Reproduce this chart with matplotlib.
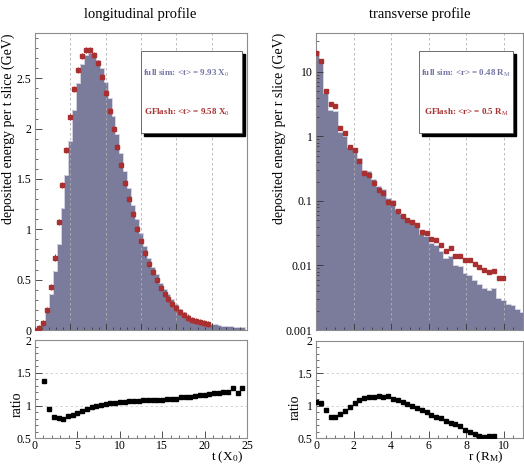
import numpy as np
import matplotlib
matplotlib.use('Agg')
import matplotlib.pyplot as plt
from matplotlib.patches import Rectangle
from matplotlib.ticker import MultipleLocator, LogLocator, FuncFormatter, NullFormatter

plt.rcParams['font.family'] = ['Liberation Serif', 'DejaVu Serif']
plt.rcParams['mathtext.fontset'] = 'custom'
plt.rcParams['mathtext.rm'] = 'Liberation Serif'
plt.rcParams['mathtext.it'] = 'Liberation Serif:italic'
plt.rcParams['mathtext.bf'] = 'Liberation Serif:bold'

# ---------------- longitudinal profile (t in X0) ----------------
t_bin = 30 / 54
long_full = [0.003, 0.012, 0.093, 0.19, 0.353, 0.583, 0.856, 1.21, 1.54, 1.876,
             2.19, 2.45, 2.64, 2.73, 2.75, 2.72, 2.68, 2.60, 2.46, 2.30,
             2.13, 1.95, 1.76, 1.58, 1.41, 1.24, 1.10, 0.96, 0.83, 0.72,
             0.63, 0.56, 0.47, 0.405, 0.355, 0.304, 0.254, 0.211, 0.178, 0.148,
             0.123, 0.105, 0.096, 0.078, 0.070, 0.062, 0.055, 0.049, 0.044, 0.039,
             0.035, 0.031, 0.028, 0.025]
long_gfl = [0.003, 0.018, 0.068, 0.20, 0.425, 0.72, 1.07, 1.44, 1.79, 2.12,
            2.39, 2.58, 2.72, 2.785, 2.785, 2.735, 2.65, 2.51, 2.35, 2.18,
            2.0, 1.82, 1.64, 1.46, 1.30, 1.15, 1.006, 0.88, 0.76, 0.66,
            0.575, 0.50, 0.42, 0.36, 0.31, 0.263, 0.22, 0.18, 0.15, 0.124,
            0.102, 0.087, 0.075, 0.066, 0.055]
long_ratio_first = 2  # first bin with a ratio point
long_ratio = [1.37, 0.95, 0.83, 0.81, 0.80, 0.84, 0.86, 0.885, 0.915, 0.95,
              0.97, 0.99, 1.01, 1.02, 1.035, 1.045, 1.055, 1.06, 1.065, 1.07,
              1.075, 1.08, 1.085, 1.08, 1.09, 1.09, 1.095, 1.095, 1.10, 1.125,
              1.125, 1.125, 1.145, 1.155, 1.155, 1.17, 1.185, 1.195, 1.21, 1.205,
              1.275, 1.185, 1.275]

# ---------------- transverse profile (r in RM) ----------------
r_bin = 0.256
tran_full = [20.7, 15.4, 4.77, 2.59, 2.46, 1.18, 1.03, 0.673, 0.634, 0.457,
             0.30, 0.289, 0.216, 0.173, 0.153, 0.110, 0.102, 0.075, 0.0625, 0.0513,
             0.0465, 0.0405, 0.0304, 0.0288, 0.0224, 0.0208, 0.0165, 0.0131, 0.0138, 0.0102,
             0.0098, 0.0077, 0.0071, 0.0060, 0.0051, 0.0045, 0.0042, 0.0044, 0.0031, 0.0029,
             0.0025, 0.0024, 0.0021, 0.0019]
tran_gfl = [19.5, 14.8, 5.07, 3.16, 3.0, 1.36, 1.12, 0.687, 0.61, 0.42,
            0.268, 0.256, 0.19, 0.15, 0.135, 0.0955, 0.093, 0.069, 0.059, 0.050,
            0.047, 0.042, 0.0327, 0.032, 0.026, 0.025, 0.0204, 0.017, 0.0186, 0.0142,
            0.0142, 0.0122, 0.012, 0.0107, 0.0095, 0.0086, 0.0079, 0.0082, 0.0063, 0.0064]
tran_ratio = [1.06, 1.04, 0.94, 0.82, 0.82, 0.87, 0.92, 0.98, 1.04, 1.087,
              1.12, 1.128, 1.137, 1.152, 1.137, 1.152, 1.10, 1.087, 1.06, 1.025,
              0.99, 0.965, 0.93, 0.90, 0.86, 0.83, 0.81, 0.77, 0.74, 0.72,
              0.69, 0.635, 0.59, 0.56, 0.535, 0.52, 0.535, 0.54]

FILL = '#7b7b9c'
RED = '#a83030'
SIM_TXT = '#7474a4'
FRAME = '#8c8c8c'
GRID = '#b0b0b0'

W, H = 524, 465
fig = plt.figure(figsize=(W / 100, H / 100), dpi=100)


def ax_at(x0, y0, x1, y1):
    return fig.add_axes([x0 / W, 1 - y1 / H, (x1 - x0) / W, (y1 - y0) / H])


ax_l = ax_at(35, 33, 247, 330)
ax_lr = ax_at(35, 340, 247, 438.3)
ax_r = ax_at(316.2, 33, 522.5, 330)
ax_rr = ax_at(316.2, 340.7, 522.5, 438.3)

fmt_g = FuncFormatter(lambda v, p: f'{v:g}')

for ax in (ax_l, ax_lr, ax_r, ax_rr):
    for s in ax.spines.values():
        s.set_color(FRAME)
        s.set_linewidth(0.8)
    ax.tick_params(which='both', direction='in', top=False, right=False,
                   labelsize=8.5, colors='#333333', labelcolor='black')
    ax.tick_params(axis='x', pad=1)
    ax.tick_params(axis='y', pad=2.5)
    ax.tick_params(which='major', length=5, width=0.6)
    ax.tick_params(which='minor', length=2.5, width=0.5)

# ---- longitudinal top ----
t_edges = (np.arange(len(long_full) + 1) - 0.5) * t_bin
ax_l.stairs(long_full, t_edges, fill=True, color=FILL, zorder=1)
ax_l.stairs(long_full, t_edges, color='#d4d4e2', lw=0.7, zorder=1.5)
t_g = np.arange(len(long_gfl)) * t_bin
ax_l.errorbar(t_g, long_gfl, yerr=0.03, fmt='s', ms=3.3, color=RED,
              elinewidth=0.7, capsize=0, zorder=3)
ax_l.set_xlim(0, 30)
ax_l.set_ylim(0, 2.95)
ax_l.xaxis.set_major_locator(MultipleLocator(5))
ax_l.xaxis.set_minor_locator(MultipleLocator(1))
ax_l.yaxis.set_major_locator(MultipleLocator(0.5))
ax_l.yaxis.set_minor_locator(MultipleLocator(0.1))
ax_l.yaxis.set_major_formatter(fmt_g)
ax_l.set_xticklabels([])
ax_l.grid(axis='x', which='major', ls=(0, (3, 3)), color=GRID, lw=0.6)
ax_l.set_ylabel('deposited energy per t slice (GeV)', fontsize=10, loc='top', labelpad=1)

# ---- longitudinal ratio ----
t_rat = (np.arange(len(long_ratio)) + long_ratio_first) * t_bin
ax_lr.plot(t_rat, long_ratio, 's', ms=2.3, color='black', zorder=3)
ax_lr.set_xlim(0, 25)
ax_lr.set_ylim(0.5, 2)
ax_lr.xaxis.set_major_locator(MultipleLocator(5))
ax_lr.xaxis.set_minor_locator(MultipleLocator(1))
ax_lr.yaxis.set_major_locator(MultipleLocator(0.5))
ax_lr.yaxis.set_minor_locator(MultipleLocator(0.1))
ax_lr.yaxis.set_major_formatter(fmt_g)
ax_lr.grid(axis='y', which='major', ls=(0, (3, 3)), color='#cccccc', lw=0.6)
ax_lr.set_ylabel('ratio', fontsize=10)
ax_lr.yaxis.set_label_coords(-0.055, 0.35)
ax_lr.set_xlabel('t (X$_0$)', fontsize=9.5)
ax_lr.xaxis.set_label_coords(0.905, -0.115)

# ---- transverse top ----
r_edges = (np.arange(len(tran_full) + 1) - 0.5) * r_bin
ax_r.stairs(tran_full, r_edges, baseline=1e-5, fill=True, color=FILL, zorder=1)
ax_r.stairs(tran_full, r_edges, baseline=1e-5, color='#d4d4e2', lw=0.7, zorder=1.5)
r_g = np.arange(len(tran_gfl)) * r_bin
ax_r.plot(r_g, tran_gfl, 's', ms=3.3, color=RED, zorder=3)
ax_r.set_yscale('log')
ax_r.set_xlim(0, 11)
ax_r.set_ylim(1e-3, 40)
ax_r.xaxis.set_major_locator(MultipleLocator(2))
ax_r.xaxis.set_minor_locator(MultipleLocator(0.5))
ax_r.yaxis.set_major_locator(LogLocator(base=10))
ax_r.yaxis.set_minor_locator(LogLocator(base=10, subs=np.arange(2, 10)))
ax_r.yaxis.set_major_formatter(fmt_g)
ax_r.yaxis.set_minor_formatter(NullFormatter())
ax_r.set_xticklabels([])
ax_r.grid(axis='x', which='major', ls=(0, (3, 3)), color=GRID, lw=0.6)
ax_r.set_ylabel('deposited energy per r slice (GeV)', fontsize=10, loc='top', labelpad=0)

# ---- transverse ratio ----
r_rat = np.arange(len(tran_ratio)) * r_bin
ax_rr.plot(r_rat, tran_ratio, 's', ms=2.3, color='black', zorder=3)
ax_rr.set_xlim(0, 11)
ax_rr.set_ylim(0.5, 2)
ax_rr.xaxis.set_major_locator(MultipleLocator(2))
ax_rr.xaxis.set_minor_locator(MultipleLocator(0.5))
ax_rr.yaxis.set_major_locator(MultipleLocator(0.5))
ax_rr.yaxis.set_minor_locator(MultipleLocator(0.1))
ax_rr.yaxis.set_major_formatter(fmt_g)
ax_rr.grid(axis='y', which='major', ls=(0, (3, 3)), color='#cccccc', lw=0.6)
ax_rr.set_ylabel('ratio', fontsize=10)
ax_rr.yaxis.set_label_coords(-0.072, 0.32)
ax_rr.set_xlabel(r'r (R$_\mathrm{M}$)', fontsize=9.5)
ax_rr.xaxis.set_label_coords(0.82, -0.115)


# ---- mean value boxes ----
def mean_box(ax, x0, x1, txt_sim, txt_gfl, xt):
    y0, y1 = 0.663, 0.939
    ax.add_patch(Rectangle((x0 + 0.014, y0 - 0.010), x1 - x0, y1 - y0,
                           transform=ax.transAxes, color='black', zorder=5))
    ax.add_patch(Rectangle((x0, y0), x1 - x0, y1 - y0, transform=ax.transAxes,
                           facecolor='white', edgecolor='#555555', lw=0.6, zorder=6))
    ax.text(xt, 0.865, txt_sim, transform=ax.transAxes, ha='center', va='center',
            fontsize=6.5, fontweight='bold', color=SIM_TXT, zorder=7)
    ax.text(xt, 0.734, txt_gfl, transform=ax.transAxes, ha='center', va='center',
            fontsize=6.5, fontweight='bold', color=RED, zorder=7)


mean_box(ax_l, 0.499, 0.975, 'full sim: <t> = 9.93 X$_0$', 'GFlash: <t> = 9.58 X$_0$', 0.715)
mean_box(ax_r, 0.50, 0.954, r'full sim: <r> = 0.48 R$_\mathrm{M}$',
         r'GFlash: <r> = 0.5 R$_\mathrm{M}$', 0.728)

fig.text(140.5 / W, 1 - 14 / H, 'longitudinal profile', ha='center', va='center', fontsize=10.5)
fig.text(420 / W, 1 - 14 / H, 'transverse profile', ha='center', va='center', fontsize=10.5)

fig.savefig('out.png', dpi=100)
